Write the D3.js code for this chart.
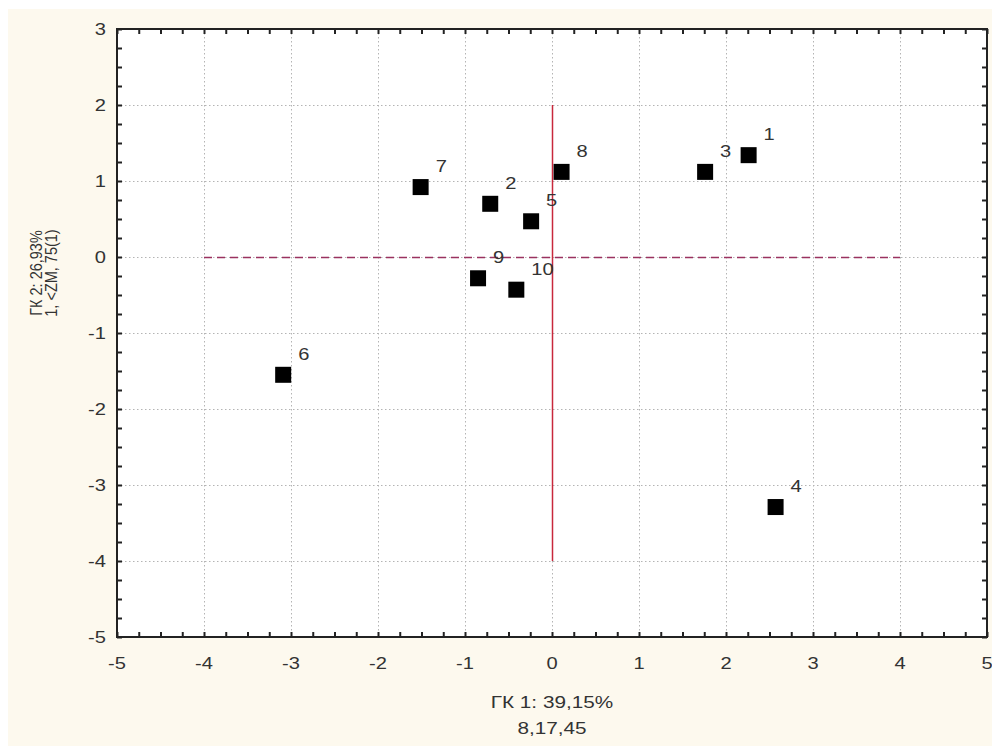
<!DOCTYPE html>
<html>
<head>
<meta charset="utf-8">
<script src="https://cdn.jsdelivr.net/npm/d3@7"></script>
<style>
  html, body { margin: 0; padding: 0; background: #ffffff; }
  svg { display: block; }
  text { font-family: "Liberation Sans", Arial, sans-serif; }
</style>
</head>
<body>
<svg id="chart" width="992" height="750"></svg>
<script>
// Component scores (PC1, PC2) for each observation
const labels = ["1", "2", "3", "4", "5", "6", "7", "8", "9", "10"];
const pc1 = [2.26, -0.71, 1.76, 2.57, -0.24, -3.09, -1.51, 0.11, -0.85, -0.41];
const pc2 = [1.34, 0.70, 1.12, -3.29, 0.47, -1.55, 0.92, 1.12, -0.28, -0.43];

const xTicks = [-5, -4, -3, -2, -1, 0, 1, 2, 3, 4, 5];
const yTicks = [-5, -4, -3, -2, -1, 0, 1, 2, 3];
const xTitle = ["ГК 1: 39,15%", "8,17,45"];
const yTitle = ["ГК 2: 26,93%", "1, <ZM, 75(1)"];

// Reference lines: horizontal at y=0 across x∈[-4,4], vertical at x=0 across y∈[-4,2]
const hLine = { y: 0, x0: -4, x1: 4 };
const vLine = { x: 0, y0: -4, y1: 2 };

const svg = d3.select("#chart");
const W = 992, H = 750;
const M = { left: 117, right: 5, top: 29, bottom: 113 };
const SX = 1.22; // horizontal widening of the labels

// Horizontal text placed at (px, py), widened around its anchor
function label(sel, px, py, anchor, size) {
  return sel.attr("transform", (d, i) => `translate(${px(d, i)},${py(d, i)}) scale(${SX},1)`)
    .attr("text-anchor", anchor).attr("font-size", size).attr("fill", "#333");
}

// Panel background
svg.append("rect").attr("x", 8).attr("y", 9).attr("width", W - 8).attr("height", H - 13)
  .attr("fill", "#fdf9ee");

const x = d3.scaleLinear().domain([-5, 5]).range([M.left, W - M.right]);
const y = d3.scaleLinear().domain([-5, 3]).range([H - M.bottom, M.top]);

// Plot area
svg.append("rect")
  .attr("x", x(-5)).attr("y", y(3))
  .attr("width", x(5) - x(-5)).attr("height", y(-5) - y(3))
  .attr("fill", "#ffffff");

// Dotted grid
const grid = svg.append("g").attr("stroke", "#b4b4b4").attr("stroke-width", 1)
  .attr("stroke-dasharray", "1.5,2.5");
grid.selectAll("line.gx").data(xTicks.slice(1, -1)).join("line")
  .attr("x1", d => Math.round(x(d)) + 0.5).attr("x2", d => Math.round(x(d)) + 0.5)
  .attr("y1", y(3)).attr("y2", y(-5));
grid.selectAll("line.gy").data(yTicks.slice(1, -1)).join("line")
  .attr("y1", d => Math.round(y(d)) + 0.5).attr("y2", d => Math.round(y(d)) + 0.5)
  .attr("x1", x(-5)).attr("x2", x(5));

// Reference lines
svg.append("line")
  .attr("x1", x(hLine.x0)).attr("x2", x(hLine.x1))
  .attr("y1", y(hLine.y) + 0.5).attr("y2", y(hLine.y) + 0.5)
  .attr("stroke", "#9a325f").attr("stroke-width", 1.5)
  .attr("stroke-dasharray", "8,5");
svg.append("line")
  .attr("x1", x(vLine.x) + 0.5).attr("x2", x(vLine.x) + 0.5)
  .attr("y1", y(vLine.y0)).attr("y2", y(vLine.y1))
  .attr("stroke", "#c8283c").attr("stroke-width", 1.5);

// Axes with inward minor ticks every 0.25
const minorX = d3.range(-5, 5.001, 0.25);
const minorY = d3.range(-5, 3.001, 0.25);
const axG = svg.append("g");
const xAxisB = d3.axisBottom(x).tickValues(minorX).tickSize(-5).tickFormat("");
const xAxisT = d3.axisTop(x).tickValues(minorX).tickSize(-5).tickFormat("");
const yAxisL = d3.axisLeft(y).tickValues(minorY).tickSize(-5).tickFormat("");
const yAxisR = d3.axisRight(y).tickValues(minorY).tickSize(-5).tickFormat("");
[[xAxisB, `translate(0,${y(-5)})`], [xAxisT, `translate(0,${y(3)})`],
 [yAxisL, `translate(${x(-5)},0)`], [yAxisR, `translate(${x(5)},0)`]].forEach(([ax, tr]) => {
  const g = axG.append("g").attr("transform", tr).call(ax);
  g.select(".domain").remove();
  g.selectAll("line").attr("stroke", "#222").attr("stroke-width", 2);
});

// Frame
svg.append("rect")
  .attr("x", x(-5)).attr("y", y(3))
  .attr("width", x(5) - x(-5)).attr("height", y(-5) - y(3))
  .attr("fill", "none").attr("stroke", "#222").attr("stroke-width", 2);

// Tick labels
label(svg.append("g").selectAll("text").data(xTicks).join("text"),
  d => x(d), () => y(-5) + 32, "middle", 16.5).text(d => d);
label(svg.append("g").selectAll("text").data(yTicks).join("text"),
  () => x(-5) - 11, d => y(d) + 6, "end", 16.5).text(d => d);

// Axis titles
label(svg.append("g").selectAll("text").data(xTitle).join("text"),
  () => x(0), (d, i) => 708 + i * 26, "middle", 17).text(d => d);
svg.append("g").attr("transform", "translate(0,273)").selectAll("text").data(yTitle).join("text")
  .attr("transform", (d, i) => `translate(${42 + i * 15},0) rotate(-90) scale(1,1.1)`)
  .attr("text-anchor", "middle").attr("font-size", 14.5).attr("fill", "#333")
  .text(d => d);

// Points
const pts = labels.map((l, i) => ({ l, x: pc1[i], y: pc2[i] }));
const S = 16;
svg.append("g").selectAll("rect").data(pts).join("rect")
  .attr("x", d => x(d.x) - S / 2).attr("y", d => y(d.y) - S / 2)
  .attr("width", S).attr("height", S).attr("fill", "#000");
label(svg.append("g").selectAll("text").data(pts).join("text"),
  d => x(d.x) + 15, d => y(d.y) - 15, "start", 16.5).text(d => d.l);
</script>
</body>
</html>
